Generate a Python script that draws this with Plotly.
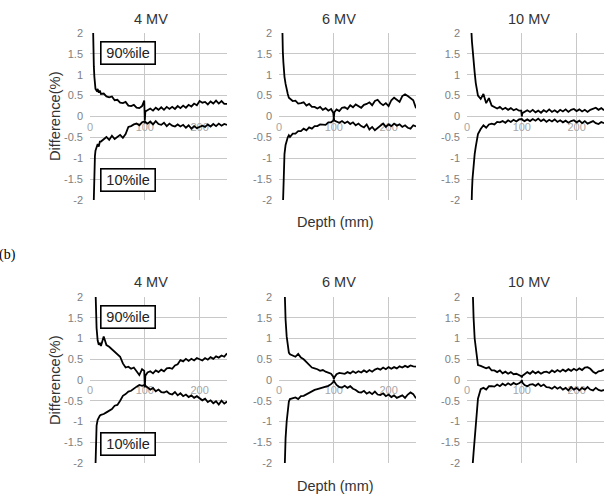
import plotly.graph_objects as go

W, H = 614, 500

# ---------------- data ----------------
depth = [4, 5, 6, 7, 8, 9, 10,
         12, 14, 16, 18, 20,
         25, 30, 35, 40, 45, 50, 55, 60, 65, 70, 75, 80, 85, 90, 95,
         99, 100, 101,
         105, 110, 115, 120, 125, 130, 135, 140, 145, 150, 155, 160, 165, 170, 175,
         180, 185, 190, 195, 200, 205, 210, 215, 220, 225, 230, 235, 240, 245, 250]

a4_p90 = [3.2, 2.1, 1.6, 1.2, 0.95, 0.78, 0.66,
          0.62, 0.66, 0.57, 0.62, 0.54,
          0.55, 0.48, 0.46, 0.48, 0.39, 0.4, 0.33, 0.32, 0.35, 0.26, 0.25, 0.28, 0.21, 0.2, 0.25,
          0.38, -0.1, 0.12,
          0.15, 0.19, 0.14, 0.21, 0.16, 0.22, 0.16, 0.23, 0.18, 0.23, 0.18, 0.25, 0.2, 0.26, 0.21,
          0.28, 0.24, 0.31, 0.27, 0.37, 0.33, 0.35, 0.29, 0.36, 0.31, 0.38, 0.31, 0.37, 0.3, 0.3]
a4_p10 = [-3.5, -3.0, -2.0, -1.5, -1.15, -0.95, -0.82,
          -0.74, -0.66, -0.72, -0.6, -0.6,
          -0.55, -0.49, -0.56, -0.46, -0.54, -0.48, -0.44, -0.51, -0.42, -0.25, -0.23, -0.19, -0.17, -0.21, -0.14,
          -0.12, -0.14, -0.13,
          -0.17, -0.12, -0.19, -0.11, -0.18, -0.2, -0.15, -0.23, -0.17, -0.22, -0.24, -0.19, -0.24, -0.2, -0.27,
          -0.21, -0.29, -0.23, -0.28, -0.24, -0.22, -0.25, -0.19, -0.24, -0.18, -0.23, -0.17, -0.22, -0.18, -0.2]

a6_p90 = [3.5, 2.6, 1.95, 1.55, 1.3, 1.1, 0.95,
          0.78, 0.6, 0.54, 0.45, 0.43,
          0.37, 0.38, 0.31, 0.32, 0.34, 0.26, 0.3, 0.23, 0.23, 0.19, 0.23, 0.16, 0.2, 0.14, 0.18,
          0.09, -0.05, 0.1,
          0.17, 0.13, 0.21, 0.22, 0.18, 0.27, 0.22, 0.29, 0.24, 0.21, 0.28, 0.3, 0.34, 0.27, 0.37,
          0.4, 0.32, 0.27, 0.32, 0.25, 0.39, 0.45, 0.4, 0.35, 0.49, 0.53, 0.49, 0.44, 0.39, 0.2]
a6_p10 = [-3.5, -3.0, -2.3, -1.75, -1.35, -1.1, -0.9,
          -0.68, -0.56, -0.5, -0.45, -0.49,
          -0.41, -0.41, -0.35, -0.35, -0.29, -0.33, -0.26, -0.29, -0.23, -0.23, -0.19, -0.19, -0.2, -0.14, -0.14,
          -0.1, -0.04, -0.1,
          -0.12, -0.15, -0.11, -0.16, -0.12, -0.18, -0.14, -0.21, -0.17, -0.23, -0.26, -0.19, -0.31, -0.25, -0.33,
          -0.27, -0.22, -0.17, -0.25, -0.19, -0.23, -0.17, -0.22, -0.19, -0.25, -0.21, -0.27, -0.29, -0.21, -0.24]

a10_p90 = [4.5, 3.6, 3.0, 2.5, 2.05, 1.8, 1.6,
           1.3, 1.05, 0.8, 0.6, 0.5,
           0.42, 0.54, 0.32, 0.44, 0.26, 0.23, 0.19, 0.23, 0.17, 0.21, 0.16, 0.2, 0.15, 0.18, 0.14,
           0.14, 0.0, 0.08,
           0.12, 0.15, 0.11, 0.16, 0.1, 0.14, 0.09, 0.15, 0.11, 0.17, 0.11, 0.15, 0.1, 0.16, 0.12,
           0.17, 0.11, 0.16, 0.18, 0.13, 0.17, 0.12, 0.16, 0.11, 0.16, 0.19, 0.21, 0.16, 0.2, 0.15]
a10_p10 = [-4.5, -3.8, -3.2, -2.6, -2.1, -1.8, -1.5,
           -1.15, -0.9, -0.72, -0.55, -0.42,
           -0.3, -0.21, -0.27, -0.19, -0.17, -0.19, -0.13, -0.14, -0.11, -0.15, -0.09, -0.13, -0.08, -0.12, -0.07,
           -0.07, -0.06, -0.08,
           -0.11, -0.07, -0.11, -0.06, -0.1, -0.05, -0.11, -0.07, -0.13, -0.08, -0.12, -0.07, -0.13, -0.09, -0.14,
           -0.1, -0.15, -0.11, -0.09, -0.14, -0.1, -0.16, -0.11, -0.17, -0.13, -0.11, -0.16, -0.18, -0.13, -0.16]

b4_p90 = [5.0, 4.5, 4.0, 3.5, 3.0, 2.4, 1.8,
          1.25, 0.95, 0.85, 0.88, 0.82,
          1.05, 0.84, 0.8, 0.74, 0.7, 0.64, 0.56, 0.4, 0.3, 0.32, 0.27, 0.3, 0.2, 0.12, 0.26,
          0.22, -0.18, 0.1,
          0.18, 0.21, 0.16, 0.23, 0.19, 0.25, 0.21, 0.28, 0.29, 0.27, 0.35, 0.38, 0.48, 0.45, 0.51,
          0.46, 0.51, 0.47, 0.53, 0.49, 0.47, 0.53, 0.49, 0.55, 0.51, 0.57, 0.54, 0.59, 0.56, 0.64]
b4_p10 = [-5.0, -4.5, -4.0, -3.5, -3.0, -2.5, -1.9,
          -1.1, -0.96, -0.9, -0.86, -0.84,
          -0.82, -0.78, -0.74, -0.7, -0.62, -0.6, -0.5, -0.38, -0.34, -0.28, -0.26, -0.2, -0.16, -0.12, -0.14,
          -0.12, -0.1, -0.14,
          -0.18, -0.23, -0.19, -0.27, -0.23, -0.29, -0.3, -0.27, -0.33, -0.35, -0.29, -0.37, -0.32, -0.39, -0.35,
          -0.41, -0.37, -0.43, -0.39, -0.45, -0.49, -0.45, -0.53, -0.49, -0.56, -0.51, -0.59, -0.5, -0.57, -0.52]

b6_p90 = [5.0, 4.5, 4.0, 3.5, 3.0, 2.4, 2.0,
          1.45, 1.05, 0.8, 0.66, 0.62,
          0.58, 0.56, 0.63, 0.54, 0.5, 0.44, 0.38, 0.3, 0.28, 0.26, 0.22, 0.24, 0.2, 0.18, 0.15,
          0.08, 0.02, 0.06,
          0.14, 0.17, 0.16, 0.15, 0.19, 0.16, 0.21, 0.17, 0.21, 0.18, 0.23, 0.19, 0.24, 0.2, 0.25,
          0.28, 0.25, 0.3, 0.26, 0.31, 0.27, 0.31, 0.28, 0.33, 0.3, 0.34, 0.31, 0.35, 0.33, 0.32]
b6_p10 = [-5.0, -4.5, -4.0, -3.6, -3.2, -2.6, -2.0,
          -1.4, -1.0, -0.7, -0.52, -0.46,
          -0.44, -0.42, -0.46, -0.39, -0.38, -0.34, -0.3, -0.28, -0.24, -0.22, -0.2, -0.18, -0.16, -0.14, -0.1,
          -0.05, 0.0, -0.04,
          -0.12, -0.17, -0.18, -0.14, -0.19, -0.15, -0.21, -0.24, -0.29, -0.3, -0.26, -0.33, -0.29, -0.34, -0.28,
          -0.35, -0.36, -0.32, -0.39, -0.35, -0.41, -0.37, -0.43, -0.39, -0.37, -0.43, -0.35, -0.3, -0.34, -0.44]

b10_p90 = [5.0, 4.5, 4.0, 3.5, 3.0, 2.5, 2.0,
           1.5, 1.0, 0.75, 0.55, 0.36,
           0.34, 0.31, 0.28, 0.31, 0.23, 0.23, 0.19, 0.23, 0.16, 0.2, 0.15, 0.19, 0.14, 0.15, 0.12,
           0.09, 0.06, 0.1,
           0.14, 0.19, 0.15, 0.21, 0.16, 0.2, 0.15, 0.19, 0.2, 0.17, 0.23, 0.19, 0.24, 0.2, 0.25,
           0.21, 0.26, 0.22, 0.27, 0.23, 0.28, 0.24, 0.3, 0.31, 0.27, 0.2, 0.16, 0.21, 0.22, 0.25]
b10_p10 = [-5.0, -4.5, -4.0, -3.4, -2.9, -2.5, -2.1,
           -1.75, -1.45, -1.1, -0.75, -0.45,
           -0.22, -0.19, -0.23, -0.15, -0.15, -0.16, -0.11, -0.15, -0.09, -0.13, -0.08, -0.12, -0.07, -0.11, -0.08,
           -0.04, 0.0, -0.06,
           -0.12, -0.15, -0.11, -0.1, -0.14, -0.09, -0.15, -0.11, -0.17, -0.18, -0.21, -0.16, -0.21, -0.17, -0.23,
           -0.19, -0.25, -0.17, -0.23, -0.19, -0.25, -0.19, -0.23, -0.17, -0.23, -0.25, -0.19, -0.24, -0.26, -0.24]

panel_titles = ["4 MV", "6 MV", "10 MV"]
x_tickvals = [0, 100, 200]
x_ticktext = ["0", "100", "200"]
y_tickvals = [2, 1.5, 1, 0.5, 0, -0.5, -1, -1.5, -2]
y_ticktext = ["2", "1.5", "1", "0.5", "0", "-0.5", "-1", "-1.5", "-2"]

rows = [
    [(a4_p90, a4_p10), (a6_p90, a6_p10), (a10_p90, a10_p10)],
    [(b4_p90, b4_p10), (b6_p90, b6_p10), (b10_p90, b10_p10)],
]

# ---------------- layout helpers ----------------
FONT = "Liberation Sans, Arial, sans-serif"


def fx(px):
    return px / W


def fy(py):
    return 1 - py / H


x_px = [(90, 227), (279, 416), (467, 604)]
y_px = [(33, 200), (297, 463)]
title_x = [151, 339, 529]
title_y = [19, 282]
depth_y = [222, 486]
diff_y = [116, 380]
box90_y = [53.5, 317]
box10_y = [179.5, 444]

fig = go.Figure()
layout = dict(
    width=W, height=H, margin=dict(l=0, r=0, t=0, b=0, pad=0, autoexpand=False),
    paper_bgcolor="white", plot_bgcolor="white", showlegend=False,
    font=dict(family=FONT),
)
annotations = []

for r in range(2):
    yt, yb = y_px[r]
    for c in range(3):
        idx = r * 3 + c + 1
        sfx = "" if idx == 1 else str(idx)
        x0, x1 = x_px[c]
        ydom = [fy(yb), fy(yt)]
        layout["xaxis" + sfx] = dict(
            domain=[fx(x0), fx(x1)], range=[0, 250], anchor="free",
            position=(ydom[0] + ydom[1]) / 2, automargin=False,
            tickmode="array", tickvals=x_tickvals, ticktext=x_ticktext,
            showgrid=True, gridcolor="#c8c8c8", gridwidth=1.3,
            zeroline=False, showline=False, ticks="",
            tickfont=dict(size=11, color="#a6a6a6", family=FONT),
            layer="below traces", ticklabelstandoff=2, fixedrange=True,
        )
        layout["yaxis" + sfx] = dict(
            domain=ydom, range=[-2, 2], anchor="x" + sfx, automargin=False,
            tickmode="array", tickvals=y_tickvals, ticktext=y_ticktext,
            showgrid=True, gridcolor="#c8c8c8", gridwidth=1.3,
            zeroline=False, showline=False, ticks="",
            tickfont=dict(size=11, color="#808080", family=FONT),
            ticklabelstandoff=6, fixedrange=True,
        )
        p90, p10 = rows[r][c]
        for vals in (p90, p10):
            fig.add_trace(go.Scatter(
                x=depth, y=vals, xaxis="x" + sfx, yaxis="y" + sfx,
                mode="lines", line=dict(color="black", width=1.8),
                hoverinfo="skip",
            ))
        annotations.append(dict(
            text=panel_titles[c], x=fx(title_x[c]), y=fy(title_y[r]),
            xref="paper", yref="paper", showarrow=False,
            xanchor="center", yanchor="middle",
            font=dict(size=14.5, color="#333333", family=FONT),
        ))
    annotations.append(dict(
        text="Depth (mm)", x=fx(335), y=fy(depth_y[r]), xref="paper", yref="paper",
        showarrow=False, xanchor="center", yanchor="middle",
        font=dict(size=14.5, color="#333333", family=FONT),
    ))
    annotations.append(dict(
        text="Difference(%)", x=fx(55), y=fy(diff_y[r]), xref="paper", yref="paper",
        showarrow=False, xanchor="center", yanchor="middle", textangle=-90,
        font=dict(size=14.7, color="#333333", family=FONT),
    ))
    for label, yy in (("90%ile", box90_y[r]), ("10%ile", box10_y[r])):
        annotations.append(dict(
            text=label, x=fx(127.5), y=fy(yy), xref="paper", yref="paper",
            showarrow=False, xanchor="center", yanchor="middle",
            width=51, height=19, borderpad=1, borderwidth=1.6,
            bordercolor="black", bgcolor="white",
            font=dict(size=14.5, color="#222222", family=FONT),
        ))

annotations.append(dict(
    text="(b)", x=fx(-3), y=fy(255), xref="paper", yref="paper",
    showarrow=False, xanchor="left", yanchor="middle",
    font=dict(size=14, color="black", family="Liberation Serif, Times New Roman, serif"),
))

layout["annotations"] = annotations
fig.update_layout(**layout)
fig.write_html("out.html")
